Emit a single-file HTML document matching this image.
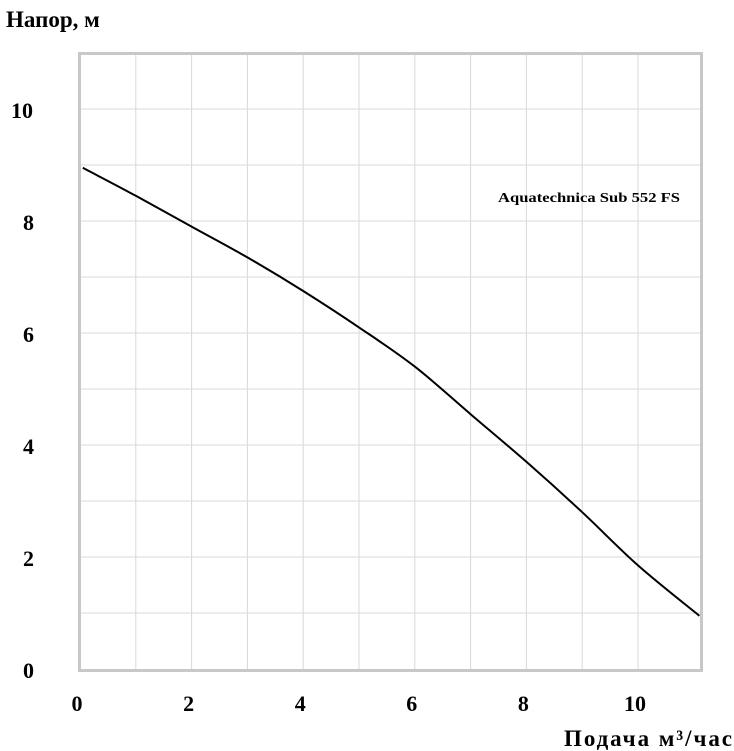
<!DOCTYPE html>
<html><head><meta charset="utf-8"><style>
body{margin:0;background:#fff}
svg{display:block}
text{font-family:"Liberation Serif",serif;font-weight:bold;fill:#000}
</style></head><body>
<svg id="chart" width="734" height="751" viewBox="0 0 734 751" xmlns="http://www.w3.org/2000/svg">
<g id="grid"></g>
<rect x="79.5" y="53.5" width="622" height="617" fill="none" stroke="#c8c8c8" stroke-width="3"/>
<g id="ticks"></g>
<path id="curve" fill="none" stroke="#000" stroke-width="2"/>
<text x="6" y="27" font-size="23">Напор, м</text>
<text x="564" y="746" font-size="23" textLength="168" lengthAdjust="spacing">Подача  м³/час</text>
<text x="498" y="202" font-size="14" textLength="182" lengthAdjust="spacingAndGlyphs">Aquatechnica Sub 552 FS</text>
</svg>
<script>
const xTicks=[0,2,4,6,8,10];
const yTicks=[0,2,4,6,8,10];
const flow=[0.05,1,2,3,4,5,6,7,8,9,10,11.1];
const head=[8.95,8.45,7.9,7.35,6.75,6.1,5.4,4.55,3.7,2.8,1.85,0.95];
const sx=v=>80+v*55.8, sy=v=>669-v*56;
const ns="http://www.w3.org/2000/svg";
const grid=document.getElementById('grid'), ticks=document.getElementById('ticks');
for(let i=1;i<=10;i++){
 const l=document.createElementNS(ns,'line');
 
 
 l.setAttribute('x1',sx(i));l.setAttribute('x2',sx(i));l.setAttribute('y1',53);l.setAttribute('y2',670);
 l.setAttribute('stroke','#d8d8d8');grid.appendChild(l);
 const h=document.createElementNS(ns,'line');
 
 
 h.setAttribute('x1',80);h.setAttribute('x2',701);h.setAttribute('y1',sy(i));h.setAttribute('y2',sy(i));
 h.setAttribute('stroke','#d8d8d8');grid.appendChild(h);
}
xTicks.forEach(v=>{const t=document.createElementNS(ns,'text');
 
 
 t.setAttribute('x',sx(v)-3);t.setAttribute('y',711);t.setAttribute('text-anchor','middle');t.setAttribute('font-size','22');
 t.textContent=v;ticks.appendChild(t);});
yTicks.forEach(v=>{const t=document.createElementNS(ns,'text');
 
 
 t.setAttribute('x',v===10?33:34);t.setAttribute('y',sy(v)+9);t.setAttribute('text-anchor','end');t.setAttribute('font-size','22');
 t.textContent=v;ticks.appendChild(t);});
const P=flow.map((f,i)=>[sx(f),sy(head[i])]);
let d='M'+P[0][0].toFixed(1)+','+P[0][1].toFixed(1);
for(let i=0;i<P.length-1;i++){
 const p0=P[i-1]||P[i],p1=P[i],p2=P[i+1],p3=P[i+2]||P[i+1];
 const c1=[p1[0]+(p2[0]-p0[0])/6,p1[1]+(p2[1]-p0[1])/6];
 const c2=[p2[0]-(p3[0]-p1[0])/6,p2[1]-(p3[1]-p1[1])/6];
 d+='C'+c1.map(n=>n.toFixed(1)).join(',')+' '+c2.map(n=>n.toFixed(1)).join(',')+' '+p2.map(n=>n.toFixed(1)).join(',');
}
document.getElementById('curve').setAttribute('d',d);
</script>
</body></html>
